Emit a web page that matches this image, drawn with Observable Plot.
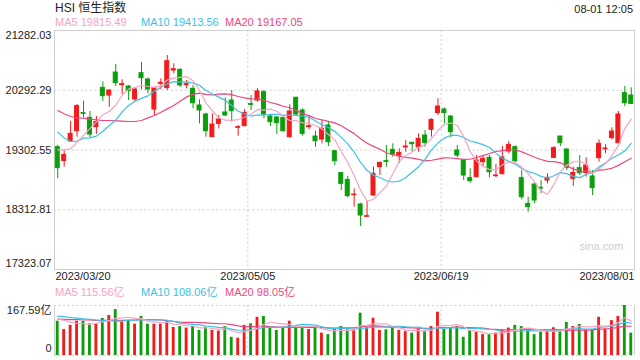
<!DOCTYPE html>
<html><head><meta charset="utf-8">
<script src="https://cdn.jsdelivr.net/npm/d3@7"></script>
<script src="https://cdn.jsdelivr.net/npm/@observablehq/plot@0.6"></script>
<style>
body{margin:0;background:#fff;}
#root{position:relative;width:640px;height:360px;overflow:hidden;font-family:"Liberation Sans",Arial,"Noto Sans CJK SC",sans-serif;}
.t{position:absolute;white-space:nowrap;line-height:1;}
#root svg{position:absolute;left:0;}
</style></head><body><div id="root"></div>
<script>
// ---------- data ----------
const titleText = "HSI 恒生指数";
const timeText = "08-01 12:05";
const dateTicks = [0, 30, 60, 90];
const dateLabels = ["2023/03/20", "2023/05/05", "2023/06/19", "2023/08/01"];
const priceTicks = [21282.03, 20292.29, 19302.55, 18312.81, 17323.07];
const volMax = 167.59;
const volTickLabels = ["167.59亿", "0"];
const maNames = ["MA5", "MA10", "MA20"];
const priceMaLegend = ["19815.49", "19413.56", "19167.05"];
const volMaLegend = ["115.56亿", "108.06亿", "98.05亿"];

const open = [19349,19117,19443,19614,19913,19835,19681,20332,20205,20586,
20376,20354,20139,20575,20470,19973,20399,20327,20619,20630,
20376,20316,20040,19891,19515,19736,19924,20122,19670,19697,
20062,20122,20261,19857,19841,19835,19515,20167,19957,19681,
19526,19476,19708,19283,18919,18808,18554,18400,18196,18549,
19018,19118,19305,19211,19344,19421,19349,19543,19637,19913,
19973,19857,19294,19129,18836,18852,19101,19173,18869,18902,
19278,19349,18836,18411,18731,18676,18797,19173,19526,19311,
18825,19002,18919,18864,19167,19316,19499,19416,20244,20205];
const high = [19377,19294,19775,20056,20111,19940,19857,20432,20299,20719,
20465,20371,20327,20752,20498,20343,20481,20868,20730,20647,
20454,20371,20134,19913,19902,19874,20167,20288,19708,19973,
20205,20316,20288,19874,19857,19846,20051,20178,19984,19874,
19614,19791,19764,19294,18925,18864,18659,18422,18455,19018,
19101,19377,19405,19322,19460,19432,19570,19625,19819,20150,
20001,19874,19377,19140,18990,19211,19211,19211,19062,19360,
19443,19372,18963,18521,18770,18797,18908,19360,19526,19322,
19018,19211,19173,18963,19471,19388,19670,19940,20354,20332];
const low = [18825,19018,19432,19515,19835,19504,19559,20106,20012,20354,
20222,20123,20106,20299,20233,19874,20299,20288,20564,20343,
20316,19984,19736,19515,19515,19653,19857,19764,19532,19692,
19957,20095,19819,19692,19559,19598,19498,19874,19532,19637,
19349,19405,19360,19046,18632,18510,18356,18035,18190,18532,
18880,19018,19184,19084,19266,19266,19266,19349,19515,19874,
19736,19504,19173,18797,18753,18841,19018,18841,18841,18891,
19239,19084,18477,18273,18411,18577,18742,19156,19360,18963,
18698,18880,18853,18549,19101,19239,19471,19405,20023,20056];
const close = [19002,19222,19570,20029,19902,19559,19764,20194,20288,20410,
20393,20277,20305,20492,20305,20327,20415,20774,20641,20371,
20393,20078,19957,19614,19725,19808,19874,19946,19681,19918,
20051,20272,19891,19764,19747,19614,19940,19891,19570,19697,
19449,19653,19432,19118,18742,18538,18565,18217,18206,18908,
19090,19106,19228,19255,19360,19399,19487,19416,19802,20023,
19913,19598,19211,18880,18786,19129,19156,18935,18880,19178,
19388,19117,18521,18356,18466,18665,18841,19333,19416,19007,
18924,18919,19046,18670,19405,19327,19609,19891,20078,20067];
const ma5 = [19305,19305,19322,19432,19545,19656,19765,19890,19941,20043,
20210,20312,20335,20375,20354,20341,20369,20463,20492,20506,
20519,20451,20288,20083,19953,19836,19796,19793,19807,19845,
19894,19974,19963,19979,19945,19858,19791,19791,19752,19742,
19709,19652,19560,19470,19279,19097,18879,18636,18454,18487,
18597,18705,18908,19117,19208,19270,19346,19383,19493,19625,
19728,19750,19709,19525,19278,19121,19032,18977,18977,19056,
19107,19100,19017,18912,18770,18625,18570,18732,18944,19052,
19104,19120,19062,18913,18993,19073,19211,19380,19662,19815];
const ma10 = [19598,19504,19443,19449,19499,19504,19532,19614,19708,19794,
19933,20039,20112,20158,20199,20276,20341,20399,20434,20430,
20430,20410,20375,20288,20230,20178,20124,20041,19945,19899,
19865,19885,19878,19893,19895,19876,19882,19877,19866,19844,
19784,19722,19676,19611,19511,19403,19266,19098,18962,18883,
18847,18792,18772,18786,18847,18933,19026,19146,19305,19417,
19499,19548,19546,19509,19452,19425,19391,19343,19251,19167,
19114,19066,18997,18945,18913,18866,18835,18875,18928,18911,
18865,18845,18897,18929,19023,19089,19166,19221,19288,19413];
const ma20 = [19957,19902,19857,19835,19830,19813,19802,19791,19791,19786,
19780,19775,19775,19791,19835,19874,19929,19984,20040,20112,
20182,20224,20244,20223,20214,20227,20232,20220,20189,20165,
20148,20147,20127,20090,20062,20027,20003,19959,19905,19872,
19824,19803,19777,19752,19703,19639,19574,19488,19414,19363,
19315,19257,19224,19198,19179,19168,19146,19122,19133,19150,
19173,19170,19159,19147,19149,19179,19209,19244,19278,19292,
19307,19307,19272,19227,19182,19145,19113,19109,19090,19039,
18989,18955,18947,18937,18968,18978,19000,19048,19108,19167];
const volume = [115,87,101,115,114,106,105,124,134,154,
112,117,105,131,105,105,105,114,94,97,
92,97,84,95,84,82,97,61,58,101,
106,128,131,95,84,92,115,97,97,87,
92,75,70,89,97,86,86,142,93,125,
84,86,92,84,80,75,89,82,97,145,
87,93,97,61,82,78,70,70,75,86,
92,101,97,82,70,78,80,93,82,111,
97,104,86,86,128,89,117,131,167.59,75];
const vma5 = [122,118,112,108,106.4,104.6,108.2,112.8,116.6,124.6,
125.8,128.2,124.4,123.8,114,112.6,110.2,112,104.6,103,
100.4,98.8,92.8,93,90.4,88.4,88.4,83.8,76.4,79.8,
84.6,90.8,104.8,112.2,108.8,106,103.4,96.6,97,97.6,
97.6,89.6,84.2,82.6,84.6,83.4,85.6,100,100.8,106.4,
106,106,96,94.2,85.2,83.4,84,82,84.6,97.6,
100,100.8,103.8,96.6,84,82.2,77.6,72.2,75,75.8,
78.6,84.8,90.2,91.6,88.4,85.6,81.4,80.6,80.6,88.8,
92.6,97.4,96,96.8,100.2,98.6,101.2,110.2,126.5,115.56];
const vma10 = [132,130,127,125,123,121,119,118,117,115.5,
115.2,118.2,118.6,120.2,119.3,119.2,119.2,118.2,114.2,108.5,
106.5,104.5,102.4,98.8,96.7,94.4,93.6,88.3,84.7,85.1,
86.5,89.6,94.3,94.3,94.3,95.3,97.1,100.7,104.6,103.2,
101.8,96.5,90.4,89.8,91.1,90.5,87.6,92.1,91.7,95.5,
94.7,95.8,98,97.5,95.8,94.7,95,89,89.4,91.4,
91.7,92.4,92.9,90.6,90.8,91.1,89.2,88,85.8,79.9,
80.4,81.2,81.2,83.3,82.1,82.1,83.1,85.4,86.1,88.6,
89.1,89.4,88.3,88.7,94.5,95.6,99.3,103.1,111.7,108.06];
const vma20 = [122,121,120,120,119,119,118,118,118,118,
118,119,119,120,120,120,119,117,114,112,
110.9,111.4,110.5,109.5,108,106.8,106.4,103.3,99.5,96.8,
96.5,97.1,98.4,96.6,95.5,94.9,95.4,94.5,94.7,94.2,
94.2,93.1,92.4,92.1,92.7,92.9,92.4,96.4,98.2,99.4,
98.3,96.2,94.2,93.7,93.5,92.6,91.3,90.6,90.6,93.5,
93.2,94.1,95.5,94.1,93.3,92.9,92.1,88.5,87.6,85.7,
86.1,86.8,87.1,87,86.5,86.6,86.2,86.7,86,84.3,
84.8,85.3,84.8,86,88.3,88.9,91.2,94.3,98.9,98.05];

// ---------- styling ----------
const UP = "#f21a1a", DOWN = "#0b9e0b";
const MA_COLORS = ["#f7a3c2", "#3cc2e6", "#ee4680"];
const GRID = "#cfcfcf", TXT = "#222";
const FONT = '"Liberation Sans", Arial, "Noto Sans CJK SC", sans-serif';

const rows = d3.range(close.length).map(i => ({
  i, o: open[i], h: high[i], l: low[i], c: close[i], v: volume[i],
  color: close[i] >= open[i] ? UP : DOWN
}));
const maRows = (arrs) => arrs.map((a, k) => a.map((y, i) => ({i, y, k}))).flat();
const N = close.length;

const root = document.getElementById("root");
function addText(txt, left, top, size, color, right) {
  const d = document.createElement("div");
  d.className = "t"; d.textContent = txt;
  d.style.fontSize = size + "px"; d.style.color = color; d.style.top = top + "px";
  if (right) d.style.right = left + "px"; else d.style.left = left + "px";
  root.appendChild(d);
}

// ---------- main chart ----------
const xDom = [0, N];
const main = Plot.plot({
  width: 640, height: 290,
  marginTop: 30, marginBottom: 21, marginLeft: 54, marginRight: 6,
  style: {fontFamily: FONT, fontSize: "11px", background: "transparent"},
  x: {domain: xDom, axis: null},
  y: {domain: [priceTicks[4], priceTicks[0]], axis: null},
  marks: [
    Plot.ruleY(priceTicks.slice(1, 4), {stroke: GRID, strokeDasharray: "2,2.5"}),
    Plot.ruleX(dateTicks.slice(1, 3), {stroke: GRID, strokeDasharray: "2,2.5"}),
    Plot.frame({stroke: GRID}),
    Plot.text(["sina.com"], {frameAnchor: "bottom-right", dx: -11, dy: -20, fill: "#cdcdcd", fontSize: 11, textAnchor: "end"}),
    Plot.ruleX(rows, {x: d => d.i + 0.5, y1: "l", y2: "h", stroke: "color", strokeWidth: 1}),
    Plot.rect(rows, {x1: d => d.i + 0.19, x2: d => d.i + 0.81, y1: "o", y2: "c", fill: "color", stroke: "color", strokeWidth: 1}),
    Plot.line(maRows([ma20, ma10, ma5]).map(d => ({...d, k: 2 - d.k})), {x: d => d.i + 0.5, y: "y", z: "k", stroke: d => MA_COLORS[d.k], strokeWidth: 1.2}),
    // y labels
    Plot.text([priceTicks[0]], {y: d => d, text: d => d.toFixed(2), frameAnchor: "left", dx: -3, dy: 5, textAnchor: "end", fill: TXT}),
    Plot.text(priceTicks.slice(1, 4), {y: d => d, text: d => d.toFixed(2), frameAnchor: "left", dx: -3, textAnchor: "end", fill: TXT}),
    Plot.text([priceTicks[4]], {y: d => d, text: d => d.toFixed(2), frameAnchor: "left", dx: -3, dy: -6, textAnchor: "end", fill: TXT}),
    // date labels
    Plot.text([0], {x: d => dateTicks[d], text: d => dateLabels[d], frameAnchor: "bottom", dy: 10, dx: 1, textAnchor: "start", fill: TXT}),
    Plot.text([1, 2], {x: d => dateTicks[d], text: d => dateLabels[d], frameAnchor: "bottom", dy: 10, textAnchor: "middle", fill: TXT}),
    Plot.text([3], {x: d => dateTicks[d], text: d => dateLabels[d], frameAnchor: "bottom", dy: 10, textAnchor: "end", fill: TXT})
  ]
});
main.style.top = "0px";
root.appendChild(main);

// ---------- volume chart ----------
const vol = Plot.plot({
  width: 640, height: 60,
  marginTop: 5, marginBottom: 5, marginLeft: 54, marginRight: 6,
  style: {fontFamily: FONT, fontSize: "11px", background: "transparent"},
  x: {domain: xDom, axis: null},
  y: {domain: [0, volMax], axis: null},
  marks: [
    Plot.ruleY([0, volMax], {stroke: GRID, strokeDasharray: "2,2.5"}),
    Plot.ruleX(dateTicks.slice(1, 3), {stroke: GRID, strokeDasharray: "2,2.5"}),
    Plot.ruleX([xDom[0], xDom[1]], {stroke: GRID}),
    Plot.rect(rows, {x1: d => d.i + 0.28, x2: d => d.i + 0.72, y1: 0, y2: "v", fill: "color"}),
    Plot.line(maRows([vma20, vma10, vma5]).map(d => ({...d, k: 2 - d.k})), {x: d => d.i + 0.5, y: "y", z: "k", stroke: d => MA_COLORS[d.k], strokeWidth: 1.2}),
    Plot.text([volMax], {y: d => d, text: () => volTickLabels[0], frameAnchor: "left", dx: -3, dy: 5, textAnchor: "end", fill: TXT}),
    Plot.text([0], {y: d => d, text: () => volTickLabels[1], frameAnchor: "left", dx: -3, dy: -7, textAnchor: "end", fill: TXT})
  ]
});
vol.style.top = "300px";
root.appendChild(vol);

// ---------- html texts ----------
addText(titleText, 55, 2, 12, TXT);
addText(timeText, 7, 4, 11, TXT, true);
const legX = [55, 141, 225];
maNames.forEach((n, k) => {
  addText(n + " " + priceMaLegend[k], legX[k], 17, 11, MA_COLORS[k]);
  addText(n + " " + volMaLegend[k], legX[k], 287, 11, MA_COLORS[k]);
});
</script></body></html>
